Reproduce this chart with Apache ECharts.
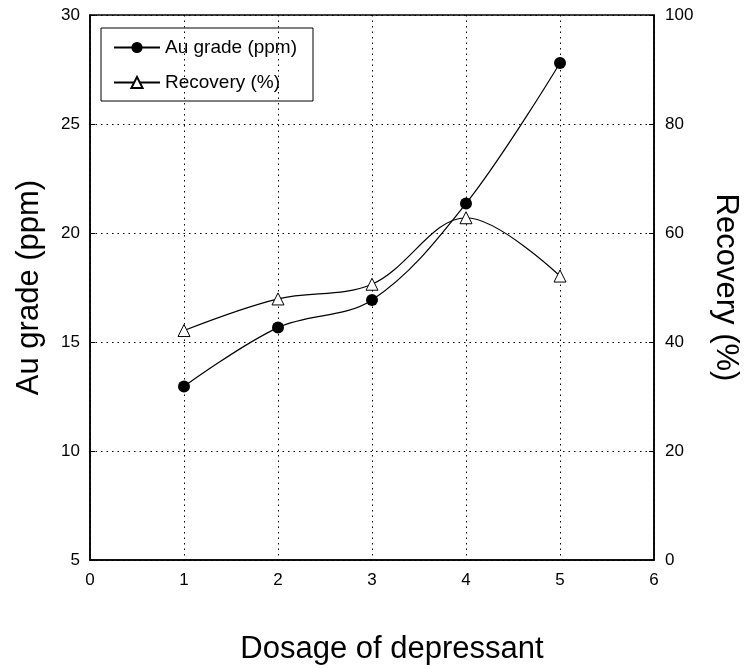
<!DOCTYPE html>
<html>
<head>
<meta charset="utf-8">
<script src="https://cdn.jsdelivr.net/npm/echarts@6/dist/echarts.min.js"></script>
<style>html,body{margin:0;padding:0;background:#fff;}#c{width:748px;height:669px;}</style>
</head>
<body>
<div id="c"></div>
<script>
const dosage = [1, 2, 3, 4, 5];
const auGrade = [12.96, 15.66, 16.93, 21.35, 27.8];
const recovery = [42.1, 47.9, 50.6, 62.8, 52.1];
const xName = 'Dosage of depressant';
const yLeftName = 'Au grade (ppm)';
const yRightName = 'Recovery (%)';

const font = 'Liberation Sans, Arial, sans-serif';
const chart = echarts.init(document.getElementById('c'));
const dotted = {show: true, lineStyle: {color: '#000', type: [1.5, 4], width: 1}};
chart.setOption({
  animation: false,
  backgroundColor: '#fff',
  grid: {left: 90, right: 94, top: 15, bottom: 109, show: true, borderColor: '#000', borderWidth: 1.5,
         containLabel: false, outerBoundsMode: 'none'},
  legend: {
    left: 101, top: 28, orient: 'vertical',
    borderColor: '#000', borderWidth: 1, padding: [10, 16, 9, 12],
    itemWidth: 46, itemHeight: 14, itemGap: 16,
    textStyle: {fontFamily: font, fontSize: 19, color: '#000'},
    data: ['Au grade (ppm)', 'Recovery (%)']
  },
  xAxis: {
    type: 'value', min: 0, max: 6, interval: 1,
    name: xName, nameLocation: 'middle', nameGap: 74,
    nameTextStyle: {fontFamily: font, fontSize: 31, color: '#000', padding: [0, 0, 0, 40]},
    axisLine: {show: true, lineStyle: {color: '#000', width: 1.5}},
    axisTick: {show: false},
    axisLabel: {fontFamily: font, fontSize: 17, color: '#000', margin: 12},
    splitLine: dotted
  },
  yAxis: [{
    type: 'value', min: 5, max: 30, interval: 5, position: 'left',
    name: yLeftName, nameLocation: 'middle', nameGap: 45,
    nameTextStyle: {fontFamily: font, fontSize: 31, color: '#000'},
    axisLine: {show: true, lineStyle: {color: '#000', width: 1.5}},
    axisTick: {show: true, inside: true, length: 5, lineStyle: {color: '#000'}},
    axisLabel: {fontFamily: font, fontSize: 17, color: '#000', margin: 10},
    splitLine: dotted
  }, {
    type: 'value', min: 0, max: 100, interval: 20, position: 'right',
    name: yRightName, nameLocation: 'middle', nameGap: 56, nameRotate: -90,
    nameTextStyle: {fontFamily: font, fontSize: 31, color: '#000'},
    axisLine: {show: true, lineStyle: {color: '#000', width: 1.5}},
    axisTick: {show: true, inside: true, length: 5, lineStyle: {color: '#000'}},
    axisLabel: {fontFamily: font, fontSize: 17, color: '#000', margin: 11},
    splitLine: {show: false}
  }],
  series: [{
    name: 'Au grade (ppm)', type: 'line', yAxisIndex: 0, smooth: 0.35,
    data: dosage.map((d, i) => [d, auGrade[i]]),
    symbol: 'circle', symbolSize: 12,
    itemStyle: {color: '#000'},
    lineStyle: {color: '#000', width: 1.2}
  }, {
    name: 'Recovery (%)', type: 'line', yAxisIndex: 1, smooth: 0.35,
    data: dosage.map((d, i) => [d, recovery[i]]),
    symbol: 'triangle', symbolSize: 12, showAllSymbol: true,
    itemStyle: {color: '#fff', borderColor: '#000', borderWidth: 1},
    lineStyle: {color: '#000', width: 1.2}
  }]
});
</script>
</body>
</html>
